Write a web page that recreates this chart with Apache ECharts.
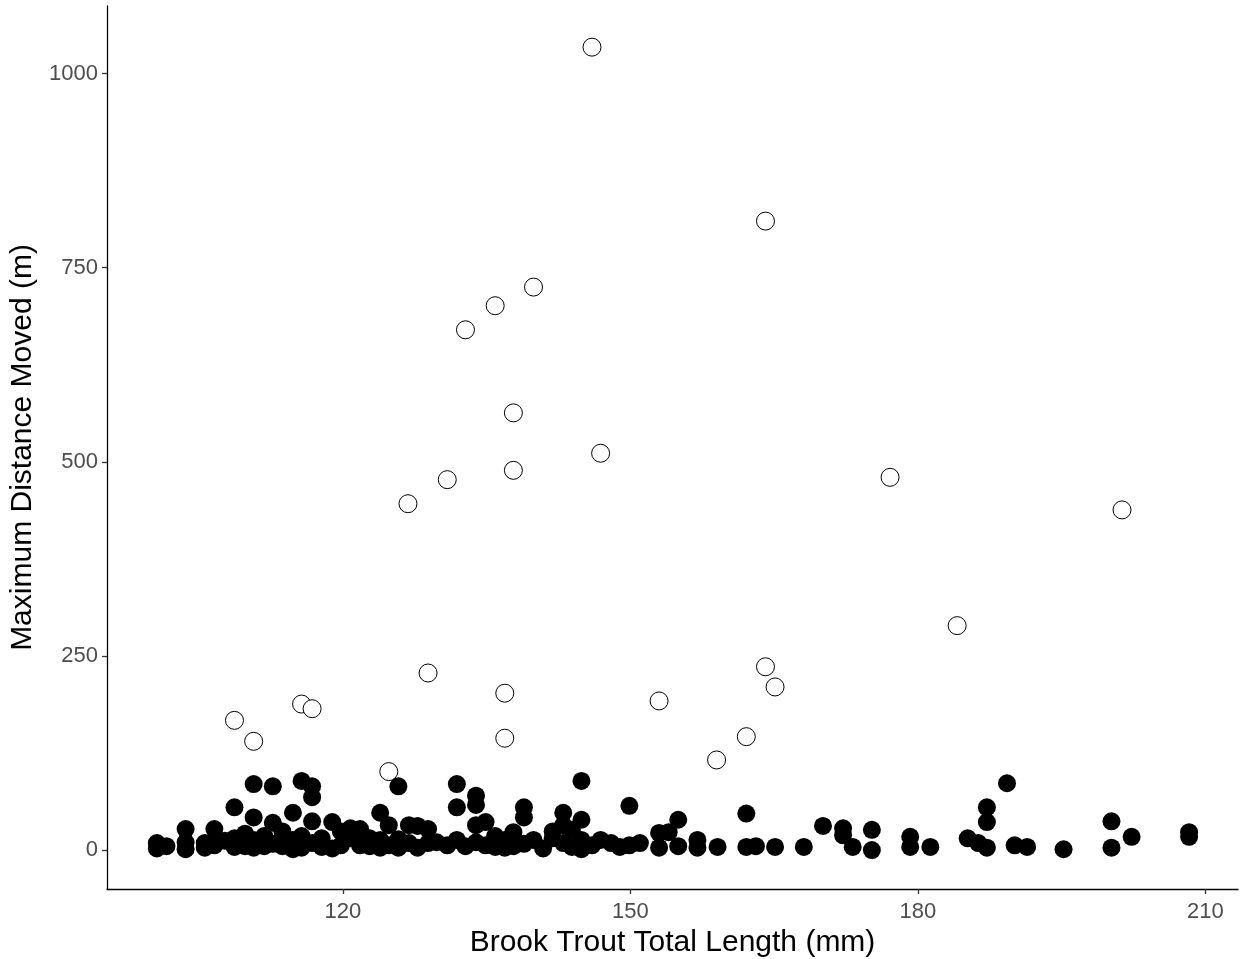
<!DOCTYPE html>
<html>
<head>
<meta charset="utf-8">
<script src="https://cdn.jsdelivr.net/npm/echarts@6/dist/echarts.min.js"></script>
<style>html,body{margin:0;padding:0;background:#fff;}#c{width:1241px;height:959px;}</style>
</head>
<body>
<div id="c"></div>
<script>
// Open circles: [length (mm), max distance (m)]
const openPoints = [
  [146.0,1034],[164.1,810],[139.9,725],[135.9,701],[132.8,670],[137.8,563],[137.8,489],
  [146.9,511],[130.9,477],[126.8,446],[177.1,480],[201.3,438],[184.1,289],[128.9,228],
  [164.1,236],[165.1,210],[136.9,202],[153.0,192],[115.7,188],[116.8,182],[108.7,167],
  [110.7,140],[136.9,144],[162.1,146],[159.0,116],[124.8,101]
];
// Filled circles: [length (mm), max distance (m)]
const filledPoints = [
  [100.6,9],[100.6,2],[101.6,5],[103.6,27],[103.6,10],[103.6,1],[105.6,9],[105.6,3],[106.6,27],[106.6,6],
  [107.7,12],[108.7,55],[108.7,15],[108.7,4],[109.8,21],[109.8,5],
  [110.7,85],[110.7,42],[110.7,13],[110.7,3],[111.8,18],[111.8,5],[112.7,82],[112.7,35],[112.7,8],
  [113.7,24],[113.7,5],[114.8,48],[114.8,13],[114.8,1],[115.7,89],[115.7,18],[115.7,3],
  [116.8,82],[116.8,68],[116.8,37],[116.8,9],[117.8,15],[117.8,4],[118.9,36],[118.9,2],[119.8,24],[119.8,6],
  [120.8,15],[120.8,28],[121.8,27],[121.8,6],[122.8,15],[122.8,5],[123.9,48],[123.9,13],[123.9,3],
  [124.8,32],[124.8,6],[125.8,82],[125.8,14],[125.8,3],[126.9,32],[126.9,9],[127.8,31],[127.8,3],
  [128.9,27],[128.9,9],[129.8,10],[130.9,6],
  [131.9,85],[131.9,55],[131.9,13],[132.8,5],[133.9,70],[133.9,58],[133.9,32],[133.9,10],[134.9,36],[134.9,6],
  [135.9,18],[135.9,4],[136.9,13],[136.9,3],[137.8,23],[137.8,5],[138.9,55],[138.9,42],[138.9,8],
  [139.9,13],[140.9,2],
  [141.9,15],[141.9,24],[143.0,48],[143.0,32],[143.0,9],[143.9,26],[143.9,4],[144.9,89],[144.9,39],
  [144.9,13],[144.9,1],[146.0,6],[146.9,13],[148.0,9],[148.9,4],[149.9,57],[149.9,6],[151.0,9],
  [153.0,22],[153.0,3],[154.0,23],[155.0,39],[155.0,5],
  [157.0,13],[157.0,3],[159.1,4],[162.1,47],[162.1,4],[163.1,5],[165.1,4],[168.1,4],[170.1,31],
  [172.2,28],[172.2,19],[173.2,4],[175.2,26],[175.2,0],[179.2,17],[179.2,4],[181.3,4],[185.2,15],
  [186.3,9],[187.2,55],[187.2,36],[187.2,3],[189.3,86],[190.1,6],[191.4,4],[195.2,1],[200.2,37],
  [200.2,3],[202.3,17],[208.3,23],[208.3,17]
];
const xTicks = [120, 150, 180, 210];
const yTicks = [0, 250, 500, 750, 1000];
const xTitle = 'Brook Trout Total Length (mm)';
const yTitle = 'Maximum Distance Moved (m)';

const chart = echarts.init(document.getElementById('c'), null, {renderer: 'canvas'});
const font = 'Liberation Sans, Arial, sans-serif';
chart.setOption({
  animation: false,
  backgroundColor: '#ffffff',
  grid: {left: 107, right: 3, top: 6, bottom: 70, containLabel: false, outerBoundsMode: 'none'},
  xAxis: {
    type: 'value', min: 95.4, max: 213.4,
    splitLine: {show: false},
    axisLine: {show: true, onZero: false, lineStyle: {color: '#000', width: 1.3}},
    axisTick: {show: true, length: 5, lineStyle: {color: '#333', width: 1.3}, customValues: xTicks},
    axisLabel: {color: '#4D4D4D', fontSize: 22, fontFamily: font, margin: 12, customValues: xTicks,
      formatter: v => String(v)},
    name: xTitle, nameLocation: 'middle', nameGap: 37,
    nameTextStyle: {color: '#000', fontSize: 30, fontFamily: font}
  },
  yAxis: {
    type: 'value', min: -50.2, max: 1087,
    splitLine: {show: false},
    axisLine: {show: true, onZero: false, lineStyle: {color: '#000', width: 1.3}},
    axisTick: {show: true, length: 5, lineStyle: {color: '#333', width: 1.3}, customValues: yTicks},
    axisLabel: {color: '#4D4D4D', fontSize: 22, fontFamily: font, margin: 9, customValues: yTicks,
      formatter: v => String(v)},
    name: yTitle, nameLocation: 'middle', nameGap: 64,
    nameTextStyle: {color: '#000', fontSize: 30, fontFamily: font}
  },
  series: [
    {type: 'scatter', data: openPoints, symbol: 'circle', symbolSize: 18,
     itemStyle: {color: '#fff', borderColor: '#000', borderWidth: 1, opacity: 1}},
    {type: 'scatter', data: filledPoints, symbol: 'circle', symbolSize: 18,
     itemStyle: {color: '#000', borderColor: '#000', borderWidth: 0, opacity: 1}}
  ]
});
</script>
</body>
</html>
